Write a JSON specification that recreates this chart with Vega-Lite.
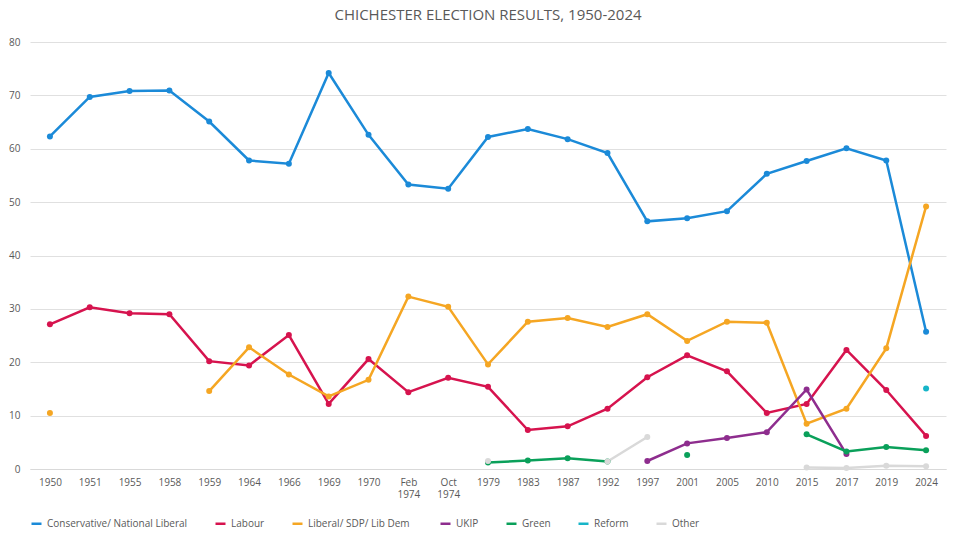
{
"$schema":"https://vega.github.io/schema/vega-lite/v6.json",
"width":960,"height":537,"autosize":{"type":"fit","contains":"padding"},
"padding":{"left":8,"right":14,"top":8,"bottom":8},
"title":{"text":"CHICHESTER ELECTION RESULTS, 1950-2024","font":"Open Sans","fontSize":15,"fontWeight":"normal","color":"#595959","offset":14},
"config":{"view":{"stroke":null},"font":"Open Sans"},
"data":{"values":[
{"y":"1950","p":"Conservative/ National Liberal","v":62.3},{"y":"1951","p":"Conservative/ National Liberal","v":69.7},{"y":"1955","p":"Conservative/ National Liberal","v":70.8},{"y":"1958","p":"Conservative/ National Liberal","v":70.9},{"y":"1959","p":"Conservative/ National Liberal","v":65.1},{"y":"1964","p":"Conservative/ National Liberal","v":57.8},{"y":"1966","p":"Conservative/ National Liberal","v":57.2},{"y":"1969","p":"Conservative/ National Liberal","v":74.2},{"y":"1970","p":"Conservative/ National Liberal","v":62.6},{"y":"Feb 1974","p":"Conservative/ National Liberal","v":53.3},{"y":"Oct 1974","p":"Conservative/ National Liberal","v":52.5},{"y":"1979","p":"Conservative/ National Liberal","v":62.2},{"y":"1983","p":"Conservative/ National Liberal","v":63.7},{"y":"1987","p":"Conservative/ National Liberal","v":61.8},{"y":"1992","p":"Conservative/ National Liberal","v":59.2},{"y":"1997","p":"Conservative/ National Liberal","v":46.4},{"y":"2001","p":"Conservative/ National Liberal","v":47.0},{"y":"2005","p":"Conservative/ National Liberal","v":48.3},{"y":"2010","p":"Conservative/ National Liberal","v":55.3},{"y":"2015","p":"Conservative/ National Liberal","v":57.7},{"y":"2017","p":"Conservative/ National Liberal","v":60.1},{"y":"2019","p":"Conservative/ National Liberal","v":57.8},{"y":"2024","p":"Conservative/ National Liberal","v":25.7},
{"y":"1950","p":"Labour","v":27.1},{"y":"1951","p":"Labour","v":30.3},{"y":"1955","p":"Labour","v":29.2},{"y":"1958","p":"Labour","v":29.0},{"y":"1959","p":"Labour","v":20.2},{"y":"1964","p":"Labour","v":19.4},{"y":"1966","p":"Labour","v":25.1},{"y":"1969","p":"Labour","v":12.2},{"y":"1970","p":"Labour","v":20.6},{"y":"Feb 1974","p":"Labour","v":14.4},{"y":"Oct 1974","p":"Labour","v":17.1},{"y":"1979","p":"Labour","v":15.4},{"y":"1983","p":"Labour","v":7.3},{"y":"1987","p":"Labour","v":8.0},{"y":"1992","p":"Labour","v":11.3},{"y":"1997","p":"Labour","v":17.2},{"y":"2001","p":"Labour","v":21.3},{"y":"2005","p":"Labour","v":18.3},{"y":"2010","p":"Labour","v":10.5},{"y":"2015","p":"Labour","v":12.2},{"y":"2017","p":"Labour","v":22.3},{"y":"2019","p":"Labour","v":14.8},{"y":"2024","p":"Labour","v":6.2},
{"y":"1950","p":"Liberal/ SDP/ Lib  Dem","v":10.5},{"y":"1951","p":"Liberal/ SDP/ Lib  Dem","v":null},{"y":"1959","p":"Liberal/ SDP/ Lib  Dem","v":14.6},{"y":"1964","p":"Liberal/ SDP/ Lib  Dem","v":22.8},{"y":"1966","p":"Liberal/ SDP/ Lib  Dem","v":17.7},{"y":"1969","p":"Liberal/ SDP/ Lib  Dem","v":13.6},{"y":"1970","p":"Liberal/ SDP/ Lib  Dem","v":16.7},{"y":"Feb 1974","p":"Liberal/ SDP/ Lib  Dem","v":32.3},{"y":"Oct 1974","p":"Liberal/ SDP/ Lib  Dem","v":30.4},{"y":"1979","p":"Liberal/ SDP/ Lib  Dem","v":19.6},{"y":"1983","p":"Liberal/ SDP/ Lib  Dem","v":27.6},{"y":"1987","p":"Liberal/ SDP/ Lib  Dem","v":28.3},{"y":"1992","p":"Liberal/ SDP/ Lib  Dem","v":26.6},{"y":"1997","p":"Liberal/ SDP/ Lib  Dem","v":29.0},{"y":"2001","p":"Liberal/ SDP/ Lib  Dem","v":24.0},{"y":"2005","p":"Liberal/ SDP/ Lib  Dem","v":27.6},{"y":"2010","p":"Liberal/ SDP/ Lib  Dem","v":27.4},{"y":"2015","p":"Liberal/ SDP/ Lib  Dem","v":8.5},{"y":"2017","p":"Liberal/ SDP/ Lib  Dem","v":11.3},{"y":"2019","p":"Liberal/ SDP/ Lib  Dem","v":22.6},{"y":"2024","p":"Liberal/ SDP/ Lib  Dem","v":49.2},
{"y":"1997","p":"UKIP","v":1.5},{"y":"2001","p":"UKIP","v":4.8},{"y":"2005","p":"UKIP","v":5.8},{"y":"2010","p":"UKIP","v":6.9},{"y":"2015","p":"UKIP","v":14.9},{"y":"2017","p":"UKIP","v":2.8},
{"y":"1979","p":"Green","v":1.2},{"y":"1983","p":"Green","v":1.6},{"y":"1987","p":"Green","v":2.0},{"y":"1992","p":"Green","v":1.4},{"y":"1997","p":"Green","v":null},{"y":"2001","p":"Green","v":2.6},{"y":"2005","p":"Green","v":null},{"y":"2015","p":"Green","v":6.5},{"y":"2017","p":"Green","v":3.3},{"y":"2019","p":"Green","v":4.1},{"y":"2024","p":"Green","v":3.5},
{"y":"2024","p":"Reform","v":15.1},
{"y":"1979","p":"Other","v":1.5},{"y":"1983","p":"Other","v":null},{"y":"1992","p":"Other","v":1.4},{"y":"1997","p":"Other","v":6.0},{"y":"2001","p":"Other","v":null},{"y":"2015","p":"Other","v":0.3},{"y":"2017","p":"Other","v":0.2},{"y":"2019","p":"Other","v":0.6},{"y":"2024","p":"Other","v":0.5}
]},
"encoding":{
"x":{"field":"y","type":"ordinal","sort":["1950","1951","1955","1958","1959","1964","1966","1969","1970","Feb 1974","Oct 1974","1979","1983","1987","1992","1997","2001","2005","2010","2015","2017","2019","2024"],"title":null,"scale":{"paddingOuter":0.3},"axis":{"labelAngle":0,"labelExpr":"split(datum.label,' ')","labelFontSize":10,"labelColor":"#595959","domainColor":"#d9d9d9","ticks":false,"labelPadding":8}},
"y":{"field":"v","type":"quantitative","title":null,"scale":{"domain":[0,80]},"axis":{"tickCount":8,"labelFontSize":10,"labelColor":"#595959","domain":false,"ticks":false,"gridColor":"#e0e0e0","labelPadding":10}},
"color":{"field":"p","type":"nominal","title":null,"scale":{"domain":["Conservative/ National Liberal","Labour","Liberal/ SDP/ Lib  Dem","UKIP","Green","Reform","Other"],"range":["#1b8ad8","#d6134e","#f5a623","#8e2d8e","#0aa05a","#17b5c8","#d9d9d9"]},"legend":{"orient":"bottom","direction":"horizontal","labelFontSize":10,"labelColor":"#595959","symbolType":"stroke","symbolStrokeWidth":2.5,"columnPadding":22,"offset":18}}
},
"layer":[
{"mark":{"type":"line","strokeWidth":2.5,"invalid":"break-paths-show-domains"}},
{"mark":{"type":"circle","size":36,"opacity":1}}
]
}
